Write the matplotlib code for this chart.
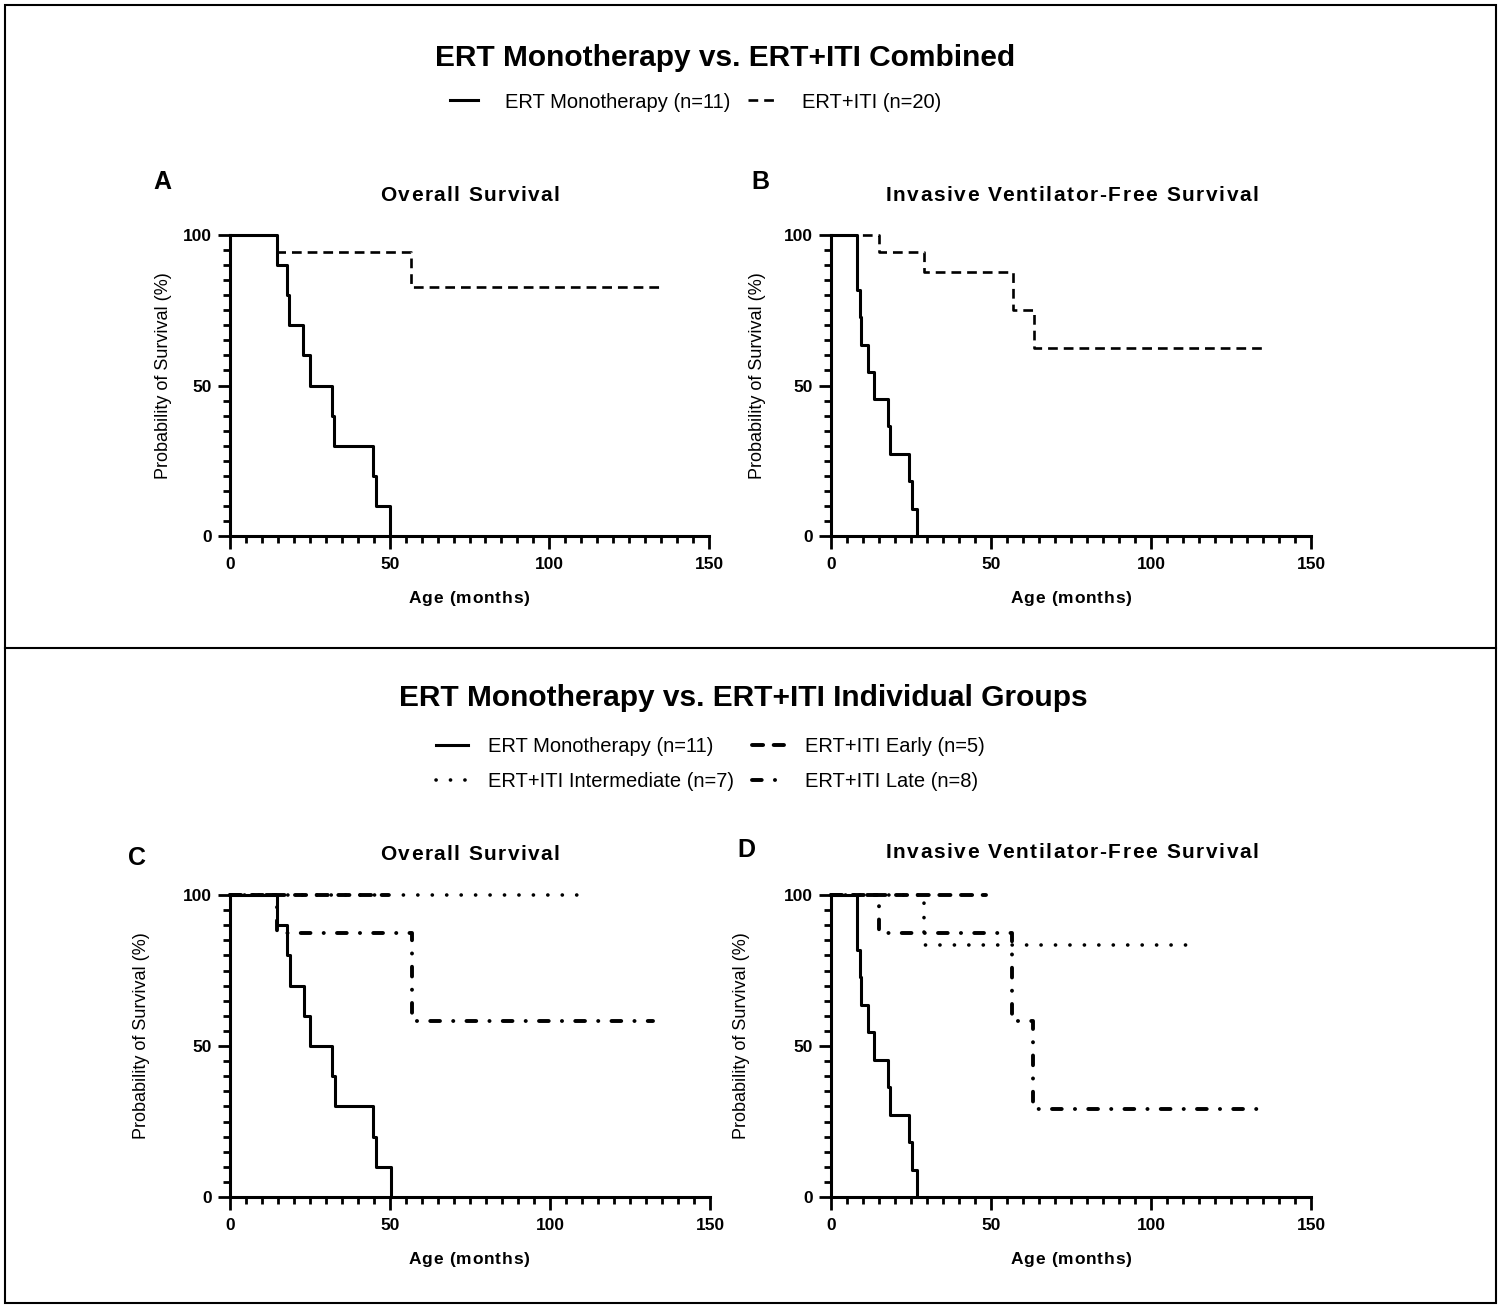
import matplotlib
matplotlib.use("Agg")
import matplotlib.pyplot as plt
from matplotlib.lines import Line2D
from matplotlib.patches import Rectangle
from matplotlib.ticker import MultipleLocator
from matplotlib.font_manager import FontProperties

plt.rcParams['font.family'] = ['Liberation Sans', 'DejaVu Sans']
plt.rcParams['lines.scale_dashes'] = False

# ---- data (months, % surviving) ----
# overall survival, ERT monotherapy
os_mono_t = [0, 14.6, 17.8, 18.6, 23.0, 25.1, 31.9, 32.7, 44.8, 45.7, 50.2]
os_mono_s = [100, 90, 80, 70, 60, 50, 40, 30, 20, 10, 0]
# overall survival, ERT+ITI combined
os_iti_t = [0, 14.6, 56.7, 135.7]
os_iti_s = [100, 94.4, 82.6, 82.6]
# invasive ventilator-free survival, ERT monotherapy
vfs_mono_t = [0, 8.0, 9.1, 9.4, 11.5, 13.5, 17.9, 18.4, 24.5, 25.2, 27.0]
vfs_mono_s = [100, 81.8, 72.7, 63.6, 54.5, 45.5, 36.4, 27.3, 18.2, 9.1, 0]
# invasive ventilator-free survival, ERT+ITI combined
vfs_iti_t = [0, 15.1, 29.1, 56.8, 63.4, 135.4]
vfs_iti_s = [100, 94.4, 87.8, 75.2, 62.6, 62.6]

# individual ERT+ITI groups
os_early_t = [0, 49.4]
os_early_s = [100, 100]
os_inter_t = [0, 112.5]
os_inter_s = [100, 100]
os_late_t = [0, 14.8, 56.8, 132.3]
os_late_s = [100, 87.5, 58.3, 58.3]

vfs_early_t = [0, 48.3]
vfs_early_s = [100, 100]
vfs_inter_t = [0, 29.1, 110.8]
vfs_inter_s = [100, 83.3, 83.3]
vfs_late_t = [0, 15.0, 56.5, 63.2, 133.0]
vfs_late_s = [100, 87.5, 58.3, 29.2, 29.2]

W, H = 1500, 1307
fig = plt.figure(figsize=(W / 100, H / 100), dpi=100)

# line styles
mono_kw = dict(color='black', lw=2.2, ls='-')
iti_kw = dict(color='black', lw=1.9, ls=(0, (7, 4.3)))
early_kw = dict(color='black', lw=2.8, ls=(0, (8, 7.6)), dash_capstyle='round')
inter_kw = dict(color='black', lw=2.6, ls=(0, (0.1, 10.3)), dash_capstyle='round')
late_kw = dict(color='black', lw=2.8, ls=(0, (7, 9.5, 0.1, 9.5)), dash_capstyle='round')


def fx(x):
    return x / W


def fy(y):
    return 1 - y / H


def make_ax(left, right, top, bottom):
    ax = fig.add_axes([fx(left), fy(bottom), (right - left) / W, (bottom - top) / H])
    ax.set_xlim(0, 150)
    ax.set_ylim(0, 100)
    for s in ['top', 'right']:
        ax.spines[s].set_visible(False)
    for s in ['left', 'bottom']:
        ax.spines[s].set_linewidth(2.2)
    ax.xaxis.set_major_locator(MultipleLocator(50))
    ax.xaxis.set_minor_locator(MultipleLocator(5))
    ax.yaxis.set_major_locator(MultipleLocator(50))
    ax.yaxis.set_minor_locator(MultipleLocator(5))
    ax.tick_params(which='major', length=9, width=2, pad=4, labelsize=12.5)
    ax.tick_params(axis='x', which='major', pad=6)
    ax.tick_params(which='minor', length=5, width=2)
    for lab in ax.get_xticklabels() + ax.get_yticklabels():
        lab.set_fontweight('bold')
    return ax


def spaced(xc, yb, s, size, track, weight='bold'):
    # text with extra letter spacing, centered on xc, baseline at yb (pixels)
    r = fig.canvas.get_renderer()
    prop = FontProperties(family='Liberation Sans', weight=weight, size=size)

    def w(txt):
        return r.get_text_width_height_descent(txt, prop, ismath=False)[0]
    lefts = [w(s[:i + 1]) - w(s[i]) + i * track for i in range(len(s))]
    total = w(s) + (len(s) - 1) * track
    x0 = xc - total / 2
    for ch, l in zip(s, lefts):
        if ch != ' ':
            fig.text(fx(x0 + l), fy(yb), ch, fontproperties=prop, ha='left', va='baseline')


def step(ax, t, s, kw, z):
    ax.step(t, s, where='post', clip_on=False, zorder=z, **kw)


# panel A
axA = make_ax(230, 709, 235, 536)
step(axA, os_mono_t, os_mono_s, mono_kw, 3)
step(axA, os_iti_t, os_iti_s, iti_kw, 4)

# panel B
axB = make_ax(831, 1311, 235, 536)
step(axB, vfs_mono_t, vfs_mono_s, mono_kw, 3)
step(axB, vfs_iti_t, vfs_iti_s, iti_kw, 4)

# panel C
axC = make_ax(230, 710, 895, 1197)
step(axC, os_mono_t, os_mono_s, mono_kw, 3)
step(axC, os_inter_t, os_inter_s, inter_kw, 4)
step(axC, os_early_t, os_early_s, early_kw, 5)
step(axC, os_late_t, os_late_s, late_kw, 6)

# panel D
axD = make_ax(831, 1311, 895, 1197)
step(axD, vfs_mono_t, vfs_mono_s, mono_kw, 3)
step(axD, vfs_inter_t, vfs_inter_s, inter_kw, 4)
step(axD, vfs_early_t, vfs_early_s, early_kw, 5)
step(axD, vfs_late_t, vfs_late_s, late_kw, 6)

# y labels
for x, y in [(163, 376), (758, 376), (141, 1036), (741, 1036)]:
    fig.text(fx(x), fy(y), 'Probability of Survival (%)', rotation=90,
             ha='center', va='center', fontsize=13)

# x labels
for x, y in [(469, 603), (1071, 603), (469, 1264), (1071, 1264)]:
    spaced(x, y, 'Age (months)', 12.5, 0.8)

# panel titles
spaced(470, 201, 'Overall Survival', 15, 1.4)
spaced(1072, 201, 'Invasive Ventilator-Free Survival', 15, 1.6)
spaced(470, 860, 'Overall Survival', 15, 1.4)
spaced(1072, 858, 'Invasive Ventilator-Free Survival', 15, 1.6)

# panel letters
for x, y, l in [(162, 182, 'A'), (760, 182, 'B'), (137, 858, 'C'), (746, 850, 'D')]:
    fig.text(fx(x), fy(y), l, ha='center', va='center', fontsize=18, fontweight='bold')

# section titles
fig.text(fx(725), fy(58), 'ERT Monotherapy vs. ERT+ITI Combined',
         ha='center', va='center', fontsize=21.5, fontweight='bold')
fig.text(fx(743), fy(698), 'ERT Monotherapy vs. ERT+ITI Individual Groups',
         ha='center', va='center', fontsize=21.5, fontweight='bold')

# legends
top_h = [Line2D([], [], **mono_kw), Line2D([], [], **iti_kw)]
fig.legend(top_h, ['ERT Monotherapy (n=11)', 'ERT+ITI (n=20)'], loc='center',
           bbox_to_anchor=(fx(696), fy(102)), ncol=2, frameon=False, fontsize=14.5,
           handlelength=1.4, handletextpad=1.3, columnspacing=0.9)

bot_h = [Line2D([], [], **mono_kw), Line2D([], [], **inter_kw),
         Line2D([], [], **early_kw), Line2D([], [], **late_kw)]
bot_l = ['ERT Monotherapy (n=11)', 'ERT+ITI Intermediate (n=7)',
         'ERT+ITI Early (n=5)', 'ERT+ITI Late (n=8)']
fig.legend(bot_h, bot_l, loc='center', bbox_to_anchor=(fx(710), fy(764)), ncol=2,
           frameon=False, fontsize=14.5, handlelength=1.6, handletextpad=1.0,
           columnspacing=0.9, labelspacing=0.75)

# outer frame and divider
fig.add_artist(Rectangle((fx(5), fy(1303)), (1496 - 5) / W, (1303 - 5) / H,
                         transform=fig.transFigure, fill=False, lw=1.5, ec='black'))
fig.add_artist(Line2D([fx(5), fx(1496)], [fy(648), fy(648)],
                      transform=fig.transFigure, color='black', lw=1.5))

fig.savefig('out.png', dpi=100, facecolor='white')
